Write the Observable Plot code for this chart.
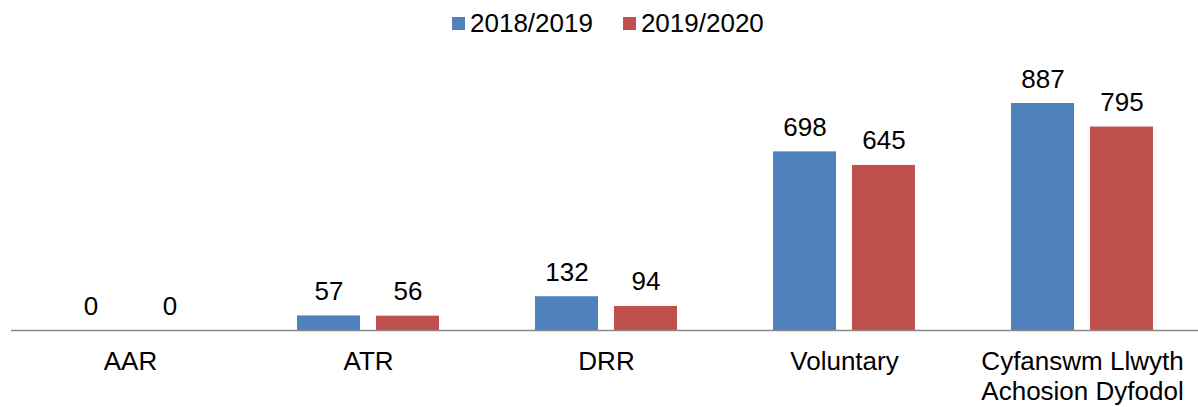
<!DOCTYPE html>
<html><head><meta charset="utf-8">
<script src="https://cdn.jsdelivr.net/npm/d3@7"></script>
<script src="https://cdn.jsdelivr.net/npm/@observablehq/plot@0.6"></script>
<style>
body{margin:0;background:#fff;font-family:"Liberation Sans",Arial,sans-serif;}
#legend{height:38px;box-sizing:border-box;padding-top:8px;padding-left:452px;display:flex;align-items:center;font-size:26px;line-height:26px;color:#000;}
.item{display:flex;align-items:center;margin-right:30px;}
.sw{display:inline-block;width:13px;height:13px;margin-right:5px;}
</style></head><body>
<div id="legend"></div>
<div id="chart"></div>
<script>
const categories = ["AAR", "ATR", "DRR", "Voluntary", "Cyfanswm Llwyth\nAchosion Dyfodol"];
const series = ["2018/2019", "2019/2020"];
const values2018 = [0, 57, 132, 698, 887];
const values2019 = [0, 56, 94, 645, 795];
const colors = ["#4F81BD", "#C0504D"];

const data = [];
categories.forEach((c, i) => {
  data.push({category: c, series: series[0], value: values2018[i]});
  data.push({category: c, series: series[1], value: values2019[i]});
});

const legend = document.getElementById("legend");
series.forEach((s, i) => {
  const it = document.createElement("span");
  it.className = "item";
  const sw = document.createElement("span");
  sw.className = "sw";
  sw.style.background = colors[i];
  it.appendChild(sw);
  it.appendChild(document.createTextNode(s));
  legend.appendChild(it);
});

const chart = Plot.plot({
  width: 1198,
  height: 369,
  marginLeft: 9,
  marginRight: -5,
  marginTop: 65,
  marginBottom: 77,
  style: {fontFamily: "'Liberation Sans', Arial, sans-serif", fontSize: "26px", color: "#000", background: "transparent", overflow: "visible"},
  fx: {domain: categories, padding: 0, label: null},
  x: {domain: series, paddingInner: 0.206, paddingOuter: 0.601, axis: null},
  y: {domain: [0, 887], axis: null},
  color: {domain: series, range: colors},
  marks: [
    Plot.barY(data, {fx: "category", x: "series", y: "value", fill: "series"}),
    Plot.ruleY([0], {stroke: "#898989", strokeWidth: 1.5}),
    Plot.text(data, {fx: "category", x: "series", y: "value", text: d => String(d.value), lineAnchor: "bottom", dy: -16, fontSize: 26, fill: "#000"}),
    Plot.axisFx({anchor: "bottom", tickSize: 0, tickPadding: 19, fontSize: 26, lineHeight: 1.13, label: null, fill: "#000"})
  ]
});
document.getElementById("chart").appendChild(chart);
</script>
</body></html>
